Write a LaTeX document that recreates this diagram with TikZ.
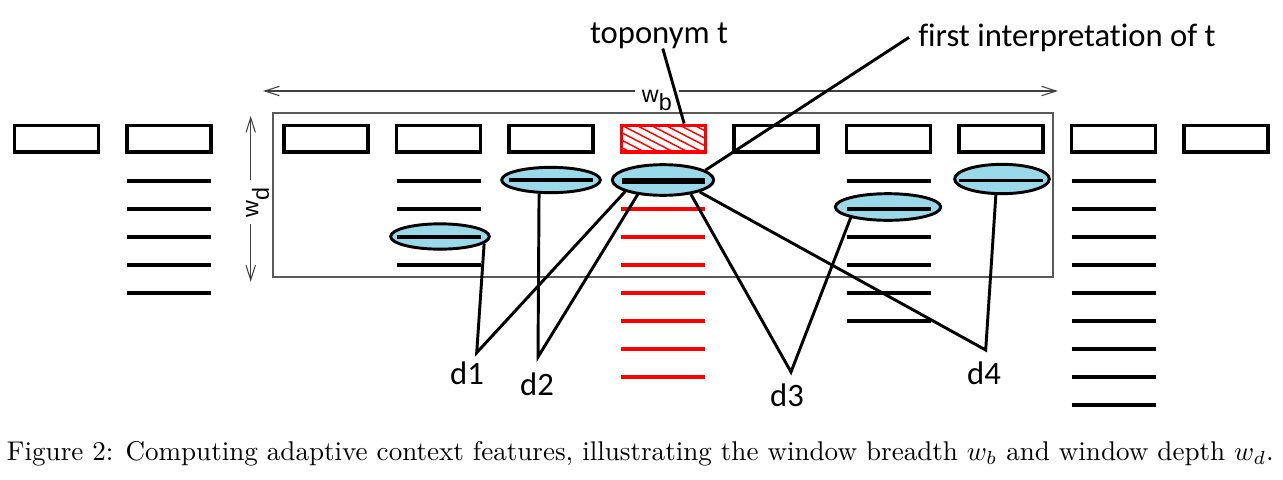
\documentclass[tikz,border=0pt]{standalone}
\usepackage{fontspec}
\newfontfamily\lab[Ligatures=NoCommon]{Carlito}
\newfontfamily\arl{Liberation Sans}
\usetikzlibrary{arrows.meta,shapes.geometric,calc}
\definecolor{skyb}{RGB}{153,217,234}
\begin{document}
\begin{tikzpicture}[x=0.75pt,y=-0.75pt,
  wbox/.style={draw=black,line width=2.5pt,minimum width=62.8pt,minimum height=20pt,inner sep=0pt},
  tbox/.style={wbox,draw=red},
  hl/.style={line width=2.8pt,black},
  rl/.style={line width=2.8pt,red},
  interp/.style={ellipse,draw=black,fill=skyb,line width=2.2pt,inner sep=0pt},
  conn/.style={line width=2.2pt,black},
  lbl/.style={font=\lab\fontsize{24.5}{28}\selectfont,inner sep=0pt},
  dimlbl/.style={font=\arl\fontsize{17.5}{20}\selectfont,inner xsep=5pt,inner ysep=0pt},
  dimln/.style={draw=black!75,line width=0.8pt},
  win/.style={draw=black!65,line width=0.9pt}
]
\useasboundingbox (0,0) rectangle (1283,479);
% window
\draw[win] (273,113) rectangle (1053,277);
% dimension arrows
\coordinate (wbL) at (263,91);
\coordinate (wbR) at (1058,91);
\node[dimlbl,anchor=base west] (wb) at (635,102) {w\raisebox{-6pt}{b}};
\draw[dimln,{Straight Barb[length=11pt,width=7pt]}-] (wbL) -- (wbL -| wb.west);
\draw[dimln,-{Straight Barb[length=11pt,width=7pt]}] (wbR -| wb.east) -- (wbR);
\coordinate (wdT) at (250.7,116);
\coordinate (wdB) at (250.7,281.7);
\node[dimlbl,rotate=90,anchor=base west] (wd) at (258.3,224) {w\raisebox{-8pt}{d}};
\draw[dimln,{Straight Barb[length=11pt,width=7pt]}-] (wdT) -- (wdT |- wd.east);
\draw[dimln,-{Straight Barb[length=11pt,width=7pt]}] (wdB |- wd.west) -- (wdB);
% boxes
\foreach \n/\x in {1/56.5,2/169,3/326,4/438.5,5/551,7/776,8/888.5,9/1001,10/1113.5,11/1226}
  \node[wbox] (b\n) at (\x,138.5) {};
\node[tbox,path picture={
  \foreach \k in {-5,...,7}
    \draw[red,line width=1.1pt] ($(path picture bounding box.north west)+(\k*14.5,0)$) -- ++(60,31);
  }] (b6) at (663.5,138.5) {};
% word lines
\foreach \y in {181,209,237,265,293} \draw[hl] (127,\y) -- (211,\y);
\foreach \y in {181,209,265} \draw[hl] (396.5,\y) -- (480.5,\y);
\foreach \y in {181,237,265,293,321} \draw[hl] (846.5,\y) -- (930.5,\y);
\foreach \y in {181,209,...,405} \draw[hl] (1071.5,\y) -- (1155.5,\y);
\foreach \y in {209,237,...,377} \draw[rl] (621,\y) -- (705,\y);
% interpretations
\node[interp,minimum width=74pt,minimum height=19pt] (e4) at (440,236.5) {};
\node[interp,minimum width=74pt,minimum height=19pt] (e5) at (551,180) {};
\node[interp,minimum width=76pt,minimum height=23pt] (e6) at (663,180) {};
\node[interp,minimum width=79pt,minimum height=20pt] (e8) at (888,207) {};
\node[interp,minimum width=71pt,minimum height=22pt] (e9) at (1002,179) {};
\draw[hl] (396.5,237) -- (480.5,237);
\draw[hl] (509,180) -- (593,180);
\draw[line width=4.2pt] (621.7,181) -- (705,181);
\draw[hl] (846.5,209) -- (930.5,209);
\draw[hl] (959,180.5) -- (1043,180.5);
% labels
\node[lbl,anchor=base] (top) at (659,43) {toponym t};
\node[lbl,anchor=base west,inner xsep=6.75pt] (fi) at (909,46) {first interpretation of t};
\node[lbl,anchor=base] (d1) at (467,384) {d1};
\node[lbl,anchor=base] (d2) at (537,395) {d2};
\node[lbl,anchor=base] (d3) at (787,406) {d3};
\node[lbl,anchor=base] (d4) at (984,384) {d4};
\coordinate (a1) at (476.7,352.7);
\coordinate (a2) at (538,357);
\coordinate (a3) at (791,372);
\coordinate (a4) at (985.7,350);
% connectors
\draw[conn] (e4.-9) -- (a1) -- (e6.197.5);
\draw[conn] (e5.229) -- (a2) -- (e6.210);
\draw[conn] (e6.-27) -- (a3) -- (e8.196);
\draw[conn] (e6.-18) -- (a4) -- (e9.249);
\draw[conn] (top) -- (b6.36);
\draw[conn] (fi.west) -- (e6.13);
% caption
\node[anchor=base west,inner sep=0pt] (cap) at (6.7,460) {\resizebox{950pt}{!}{Figure 2: Computing adaptive context features, illustrating the window breadth $w_b$ and window depth $w_d$.}};
\end{tikzpicture}
\end{document}
